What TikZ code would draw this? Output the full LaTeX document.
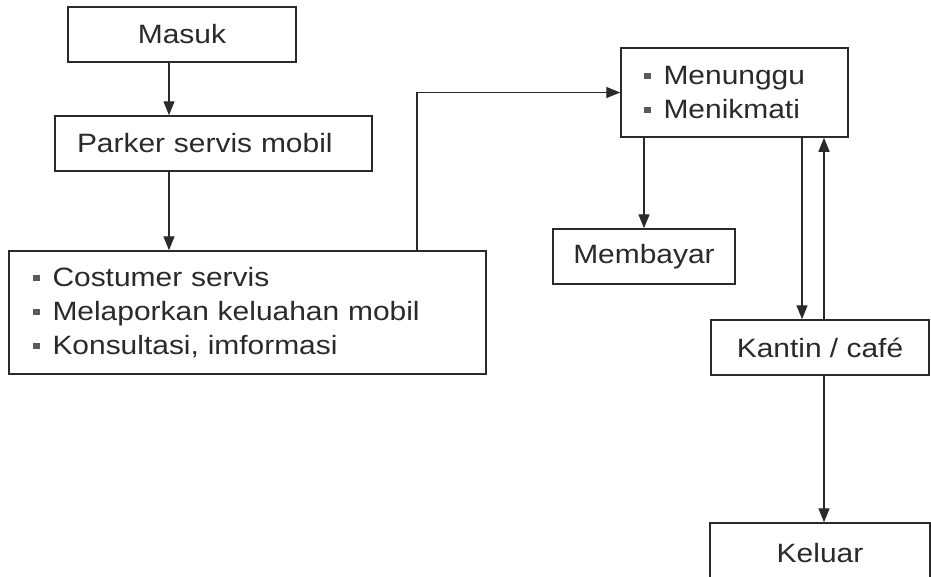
\documentclass[tikz,border=0pt]{standalone}
\usepackage{fontspec}
\setmainfont{Liberation Sans}[FakeStretch=1.13]
\usetikzlibrary{arrows.meta}
\definecolor{ink}{HTML}{2A2A2A}
\definecolor{bul}{HTML}{5A5A5A}
\newcommand\sqbul{{\color{bul}\rule[5pt]{6.5pt}{6.5pt}}\hspace{13pt}}
\begin{document}
\begin{tikzpicture}[x=1pt,y=-1pt,
  box/.style={draw=ink, line width=1.5pt, inner sep=0pt, minimum height=55pt,
    text=ink, font=\fontsize{26.5}{34}\selectfont},
  listbox/.style={box, align=left, inner ysep=0pt},
  arr/.style={draw=ink, line width=1.3pt, -{Triangle[length=14pt,width=11pt]}}]
\useasboundingbox (0,0) rectangle (931,576);
\clip (0,0) rectangle (931,576);
\fill[white] (0,0) rectangle (931,576);

\node[box, minimum width=228pt] (Masuk) at (182,34.5) {Masuk};
\node[listbox, text width=273pt, inner xsep=22pt] (Parker) at (213.5,143.5) {Parker servis mobil};
\node[listbox, text width=429pt, inner xsep=24pt, minimum height=123pt] (Costumer) at (247.5,312.5)
  {\sqbul Costumer servis\\ \sqbul Melaporkan keluahan mobil\\ \sqbul Konsultasi, imformasi};
\node[listbox, text width=181pt, inner xsep=23pt, minimum height=89pt] (Menunggu) at (734.5,92.5)
  {\sqbul Menunggu\\ \sqbul Menikmati};
\node[box, minimum width=182pt] (Membayar) at (644,256.5) {Membayar};
\node[box, minimum width=218pt] (Kantin) at (820,347.5) {Kantin / café};
\node[box, minimum width=220pt, minimum height=60pt] (Keluar) at (820,553) {Keluar};

\coordinate (xa) at (169,0);
\coordinate (xb) at (417,0);
\coordinate (xc) at (802,0);
\coordinate (xd) at (824,0);

\draw[arr] (Masuk.south -| xa) -- (Parker.north -| xa);
\draw[arr] (Parker.south -| xa) -- (Costumer.north -| xa);
\draw[arr] (Costumer.north -| xb) |- (Menunggu.west);
\draw[arr] (Menunggu.south -| Membayar.north) -- (Membayar.north);
\draw[arr] (Menunggu.south -| xc) -- (Kantin.north -| xc);
\draw[arr] (Kantin.north -| xd) -- (Menunggu.south -| xd);
\draw[arr] (Kantin.south -| xd) -- (Keluar.north -| xd);
\end{tikzpicture}
\end{document}
